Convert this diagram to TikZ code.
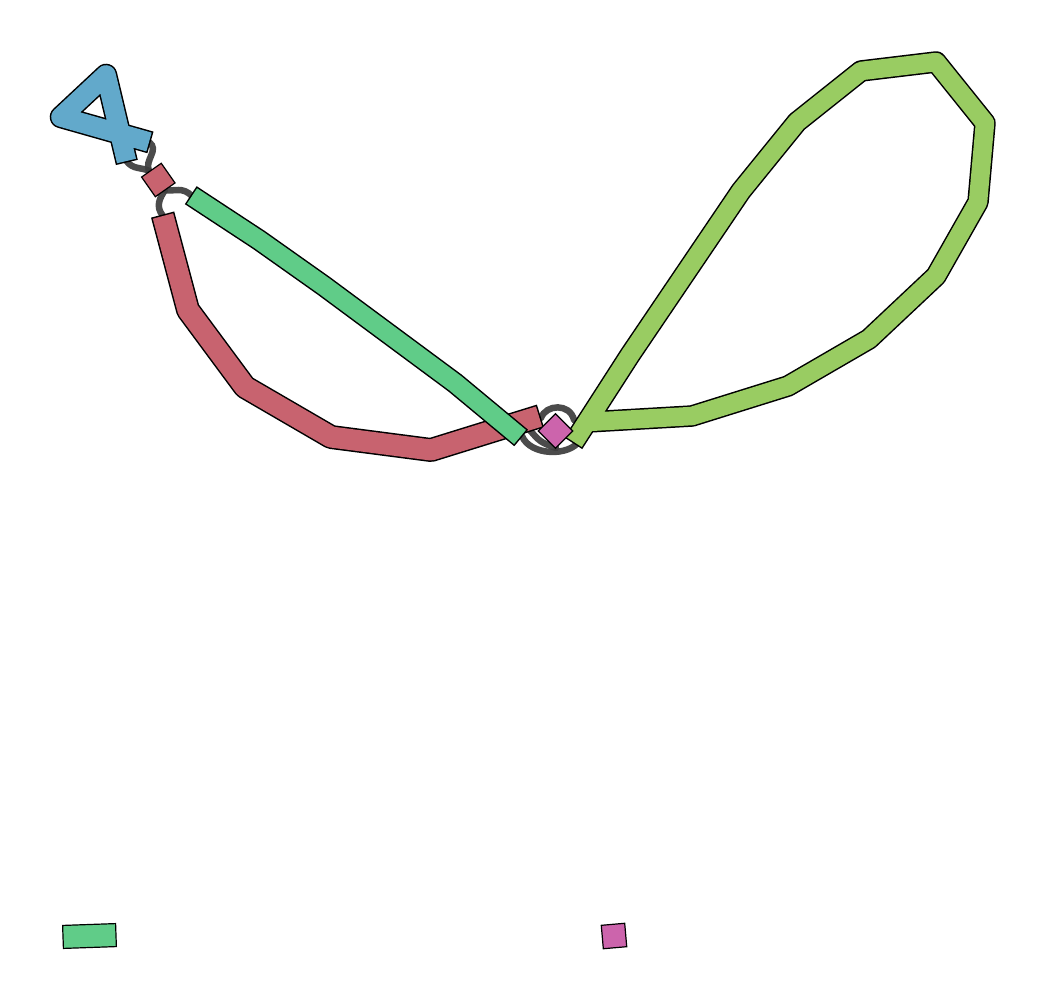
\documentclass[tikz,border=0pt]{standalone}
\definecolor{clg}{RGB}{153,204,98}
\definecolor{cgr}{RGB}{96,204,136}
\definecolor{cred}{RGB}{200,99,111}
\definecolor{cblue}{RGB}{98,169,203}
\definecolor{cpink}{RGB}{204,100,172}
\definecolor{linkgray}{RGB}{60,60,60}
\tikzset{
  outl/.style={draw=black, line width=#1, line join=round, shorten <=-1.5pt, shorten >=-1.5pt},
  body/.style 2 args={draw=#1, line width=#2, line join=round},
  lnk/.style={draw=linkgray, line width=6.5pt, line cap=round, opacity=0.92},
  sqnode/.style={draw=black, line width=1.2pt, inner sep=0pt, outer sep=0pt}
}
\begin{document}
\begin{tikzpicture}[x=1pt,y=-1pt]
\useasboundingbox (0,0) rectangle (1048,1000);
% coordinates: light green
\coordinate (lg1) at (574,442);
\coordinate (lg2) at (630,355);
\coordinate (lg3) at (741,191);
\coordinate (lg4) at (797,122);
\coordinate (lg5) at (861,71);
\coordinate (lg6) at (936,62);
\coordinate (lg7) at (985,123);
\coordinate (lg8) at (978,202);
\coordinate (lg9) at (936,276);
\coordinate (lg10) at (869,339);
\coordinate (lg11) at (788,386);
\coordinate (lg12) at (692,416);
\coordinate (lg13) at (588,422);
% green
\coordinate (g1) at (192,196);
\coordinate (g2) at (259,240);
\coordinate (g3) at (324,286);
\coordinate (g4) at (455,383);
\coordinate (g5) at (520,437);
% red
\coordinate (r1) at (163,216);
\coordinate (r2) at (188,310);
\coordinate (r3) at (245,387);
\coordinate (r4) at (331,437);
\coordinate (r5) at (431,450);
\coordinate (r6) at (539,416.5);
% blue
\coordinate (b1) at (126.5,161);
\coordinate (b2) at (106,75);
\coordinate (b3) at (61,117);
\coordinate (b4) at (149,142);
% link end points
\coordinate (jt1) at (541,418);
\coordinate (jt2) at (574,420);
\coordinate (jb1) at (522,436);
\coordinate (jb2) at (580,440);
\coordinate (rsqa) at (149,171);
\coordinate (rsqb) at (165,190);
% links
\draw[lnk] (b1) .. controls (133,170) and (142,167) .. (rsqa);
\draw[lnk] (b4) .. controls (160,150) and (144,160) .. (rsqa);
\draw[lnk] (rsqb) .. controls (174,192) and (182,186) .. (g1);
\draw[lnk] (rsqb) .. controls (160,198) and (155,206) .. (r1);
\draw[lnk] (jt1) .. controls (546,404) and (570,403) .. (jt2);
\draw[lnk] (jb1) .. controls (530,456) and (570,457) .. (jb2);
\draw[lnk] (528,428) .. controls (540,442) .. (556,448);
% contigs
\def\pathLG{(lg1) -- (lg2) -- (lg3) -- (lg4) -- (lg5) -- (lg6) -- (lg7) -- (lg8) -- (lg9) -- (lg10) -- (lg11) -- (lg12) -- (lg13)}
\def\pathG{(g1) -- (g2) -- (g3) -- (g4) -- (g5)}
\def\pathR{(r1) -- (r2) -- (r3) -- (r4) -- (r5) -- (r6)}
\def\pathB{(b1) -- (b2) -- (b3) -- (b4)}
\draw[outl=22.5pt] \pathB;
\draw[body={cblue}{19.5pt}] \pathB;
\draw[outl=24pt] \pathR;
\draw[body={cred}{21pt}] \pathR;
\draw[outl=21.5pt] \pathG;
\draw[body={cgr}{18.5pt}] \pathG;
\draw[outl=21.5pt] \pathLG;
\draw[body={clg}{18.5pt}] \pathLG;
% short contigs as nodes
\node[sqnode, fill=cred, minimum size=24pt, rotate=35] (rsq) at (158.3,180) {};
\node[sqnode, fill=cpink, minimum size=24.5pt, rotate=45] (pj) at (555.5,431) {};
\node[sqnode, fill=cgr, minimum width=53pt, minimum height=23pt, rotate=2] (gleg) at (89.5,936) {};
\node[sqnode, fill=cpink, minimum size=23.5pt, rotate=5] (pleg) at (614,936) {};
\end{tikzpicture}
\end{document}
